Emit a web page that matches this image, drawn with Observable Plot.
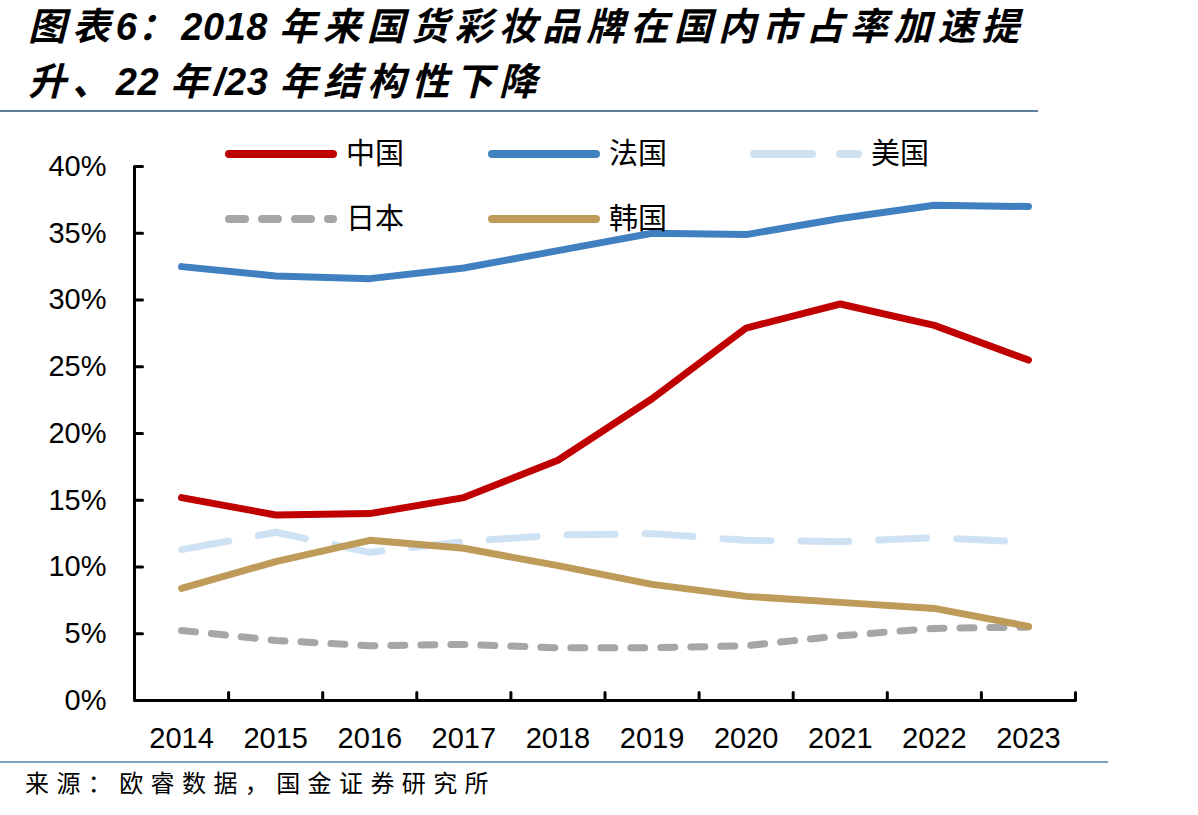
<!DOCTYPE html>
<html><head><meta charset="utf-8">
<script src="https://cdn.jsdelivr.net/npm/d3@7"></script>
<script src="https://cdn.jsdelivr.net/npm/@observablehq/plot@0.6"></script>
<style>
html,body{margin:0;padding:0;background:#fff;}
body{width:1198px;height:815px;position:relative;overflow:hidden;font-family:"Liberation Sans",Arial,sans-serif;}
#title{position:absolute;left:28px;top:0;font-family:"Liberation Sans","Noto Sans CJK SC",sans-serif;font-weight:bold;font-style:italic;font-size:38px;letter-spacing:5.9px;line-height:55px;color:#000;white-space:nowrap;}
#title .n{letter-spacing:0.5px;}
#rule1{position:absolute;left:0;top:110px;width:1038px;height:2px;background:#5f7f9f;}
#chart{position:absolute;left:0;top:115px;}
#legend{position:absolute;left:0;top:0;pointer-events:none;}
#rule2{position:absolute;left:0;top:761px;width:1108px;height:2px;background:#7aa3c4;}
#caption{position:absolute;left:25px;top:765px;font-family:"Noto Sans CJK SC",sans-serif;font-size:24px;line-height:34px;letter-spacing:7.4px;color:#000;white-space:nowrap;}
</style></head>
<body>
<div id="title">图表<span class="n">6</span>：<span class="n">2018 </span>年来国货彩妆品牌在国内市占率加速提<br>升、<span class="n">22 </span>年<span class="n">/23 </span>年结构性下降</div>
<div id="rule1"></div>
<div id="chart"></div>
<div id="legend"></div>
<div id="rule2"></div>
<div id="caption">来源：欧睿数据，国金证券研究所</div>
<script>
// ---- data ----
const years = [2014, 2015, 2016, 2017, 2018, 2019, 2020, 2021, 2022, 2023];
const china  = [15.2, 13.9, 14.0, 15.2, 18.0, 22.6, 27.9, 29.7, 28.1, 25.5];
const france = [32.5, 31.8, 31.6, 32.4, 33.7, 35.0, 34.9, 36.1, 37.1, 37.0];
const usa    = [11.3, 12.6, 11.1, 11.9, 12.4, 12.5, 12.0, 11.9, 12.2, 11.85];
const japan  = [5.25, 4.5, 4.1, 4.2, 3.95, 3.95, 4.1, 4.85, 5.4, 5.5];
const korea  = [8.4, 10.4, 12.0, 11.4, 10.1, 8.7, 7.8, 7.35, 6.9, 5.55];
const yTicks = [0, 5, 10, 15, 20, 25, 30, 35, 40];
const seriesNames = ["中国", "法国", "美国", "日本", "韩国"];

const styles = {
  "中国": {color: "#C00000", dash: null},
  "法国": {color: "#4080C0", dash: null},
  "美国": {color: "#CFE2F3", dash: "48 30"},
  "日本": {color: "#A6A6A6", dash: "14 16"},
  "韩国": {color: "#BF9B5A", dash: null}
};
const valuesByName = {"中国": china, "法国": france, "美国": usa, "日本": japan, "韩国": korea};
const rows = seriesNames.flatMap(n => years.map((yr, i) => ({name: n, year: yr, value: valuesByName[n][i]})));
const drawOrder = ["日本", "美国", "韩国", "法国", "中国"];

const x0 = years[0] - 0.5, x1 = years[years.length - 1] + 0.5;
const boundaries = years.map(y => y + 0.5);
const tickShape = {draw(context, l) { context.moveTo(0, 0); context.lineTo(0, -l); }};

const plot = Plot.plot({
  width: 1198,
  height: 645,
  marginLeft: 134,
  marginRight: 123,
  marginTop: 51,
  marginBottom: 60,
  style: {fontFamily: "Liberation Sans, Arial, sans-serif", color: "#000", background: "transparent", overflow: "visible"},
  x: {type: "linear", domain: [x0, x1], axis: null},
  y: {domain: [0, 40], axis: null},
  marks: [
    ...drawOrder.map(n => Plot.line(rows.filter(d => d.name === n), {
      x: "year", y: "value",
      stroke: styles[n].color, strokeWidth: 7,
      strokeDasharray: styles[n].dash,
      strokeLinecap: "round", strokeLinejoin: "round"
    })),
    Plot.ruleX([x0], {y1: 0, y2: 40, stroke: "#000", strokeWidth: 3}),
    Plot.ruleY([0], {x1: x0, x2: x1, stroke: "#000", strokeWidth: 3}),
    Plot.vector(yTicks, {x: x0, y: d => d, length: 8, rotate: 90, anchor: "start", shape: tickShape, stroke: "#000", strokeWidth: 3}),
    Plot.vector(boundaries, {x: d => d, y: 0, length: 8, rotate: 0, anchor: "start", shape: tickShape, stroke: "#000", strokeWidth: 3}),
    Plot.text(yTicks, {x: x0, y: d => d, text: d => d + "%", dx: -28, textAnchor: "end", fontSize: 29}),
    Plot.text(years, {x: d => d, y: 0, text: d => String(d), dy: 38, fontSize: 29})
  ]
});
document.getElementById("chart").appendChild(plot);

// ---- legend ----
const legendItems = [
  {name: "中国", x: 229, y: 154},
  {name: "法国", x: 492, y: 154},
  {name: "美国", x: 754, y: 154},
  {name: "日本", x: 229, y: 219},
  {name: "韩国", x: 492, y: 219}
];
const lsvg = d3.select("#legend").append("svg").attr("width", 1198).attr("height", 260);
const g = lsvg.selectAll("g").data(legendItems).join("g").attr("transform", d => `translate(${d.x},${d.y})`);
g.append("line").attr("x1", 0).attr("x2", 104).attr("y1", 0).attr("y2", 0)
  .attr("stroke", d => styles[d.name].color).attr("stroke-width", 8)
  .attr("stroke-linecap", "round")
  .attr("stroke-dasharray", d => d.name === "美国" ? "58 28" : d.name === "日本" ? "16 17" : null);
g.append("text").attr("x", 117).attr("y", 0).attr("dy", "0.36em")
  .attr("font-family", "Noto Sans CJK SC, sans-serif").attr("font-size", 29).attr("fill", "#000")
  .text(d => d.name);
</script>
</body></html>
